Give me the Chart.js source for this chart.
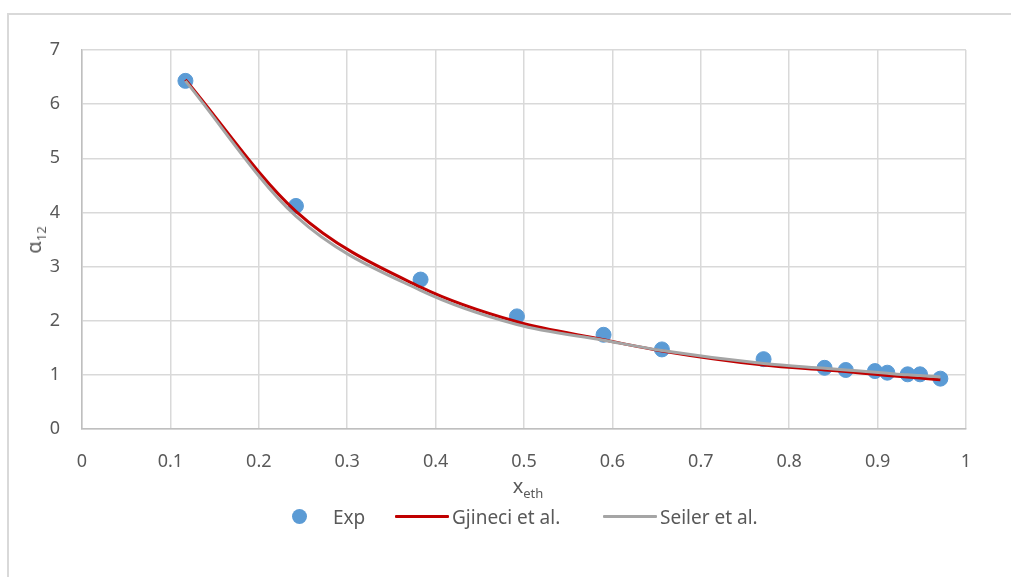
<!DOCTYPE html>
<html>
<head>
<meta charset="utf-8">
<script src="https://cdn.jsdelivr.net/npm/chart.js@4.4.0/dist/chart.umd.min.js"></script>
<style>
  html, body { margin: 0; padding: 0; background: #fff; overflow: hidden; }
  #wrap { position: relative; width: 1011px; height: 577px; font-family: "Noto Sans", sans-serif; color: #595959; }
  #frame { position: absolute; left: 7px; top: 13px; width: 1020px; height: 600px;
           border-left: 2px solid #d9d9d9; border-top: 2px solid #d9d9d9; }
  canvas { position: absolute; left: 0; top: 0; }
  .lbl { position: absolute; white-space: nowrap; font-size: 19px; line-height: 1; transform: translateY(-50%); }
  sub { font-size: 13px; vertical-align: -5px; }
  #ytitle { position: absolute; left: 35px; top: 240px; transform: translate(-50%, -50%) rotate(-90deg);
            font-size: 20px; white-space: nowrap; }
  #xtitle { position: absolute; left: 528px; top: 487px; transform: translate(-50%, -50%);
            font-size: 20px; white-space: nowrap; }
  .dot { position: absolute; width: 15px; height: 15px; border-radius: 50%; background: #5b9bd5; }
  .seg { position: absolute; height: 3px; border-radius: 1px; }
</style>
</head>
<body>
<div id="wrap">
  <div id="frame"></div>
  <canvas id="myChart" width="1011" height="577"></canvas>
  <div id="ytitle">α<sub>12</sub></div>
  <div id="xtitle">x<sub>eth</sub></div>
  <!-- legend -->
  <div class="dot" style="left:292px; top:509px;"></div>
  <div class="lbl" style="left:333px; top:517px;">Exp</div>
  <div class="seg" style="left:395px; top:515px; width:54px; background:#c00000;"></div>
  <div class="lbl" style="left:452px; top:517px;">Gjineci et al.</div>
  <div class="seg" style="left:603px; top:515px; width:54px; background:#a5a5a5;"></div>
  <div class="lbl" style="left:660px; top:517px;">Seiler et al.</div>
</div>
<script>
// mole fraction of ethanol and measured / modelled separation factor
const xEth = [0.117, 0.242, 0.383, 0.492, 0.590, 0.656, 0.771, 0.840, 0.864, 0.897, 0.911, 0.934, 0.948, 0.971];
const alphaExp = [6.43, 4.12, 2.76, 2.08, 1.74, 1.47, 1.29, 1.13, 1.09, 1.07, 1.04, 1.01, 1.01, 0.93];
const alphaGjineci = [6.45, 4.02, 2.62, 1.98, 1.65, 1.44, 1.18, 1.09, 1.06, 1.01, 0.99, 0.96, 0.94, 0.91];
const alphaSeiler = [6.43, 3.93, 2.56, 1.93, 1.64, 1.45, 1.21, 1.12, 1.09, 1.05, 1.03, 1.00, 0.99, 0.96];

const xTicks = [0, 0.1, 0.2, 0.3, 0.4, 0.5, 0.6, 0.7, 0.8, 0.9, 1];
const yTicks = [0, 1, 2, 3, 4, 5, 6, 7];

function points(ys) {
    return xEth.map((x, i) => ({ x: x, y: ys[i] }));
}

const ctx = document.getElementById('myChart').getContext('2d');

new Chart(ctx, {
    type: 'scatter',
    data: {
        datasets: [
            {
                label: 'Seiler et al.',
                data: points(alphaSeiler),
                showLine: true,
                borderColor: '#a5a5a5',
                borderWidth: 3,
                pointRadius: 0,
                cubicInterpolationMode: 'monotone',
                order: 1
            },
            {
                label: 'Gjineci et al.',
                data: points(alphaGjineci),
                showLine: true,
                borderColor: '#c00000',
                borderWidth: 3,
                pointRadius: 0,
                cubicInterpolationMode: 'monotone',
                order: 2
            },
            {
                label: 'Exp',
                data: points(alphaExp),
                backgroundColor: '#5b9bd5',
                borderColor: '#5b9bd5',
                pointRadius: 7.5,
                order: 3
            }
        ]
    },
    options: {
        responsive: false,
        animation: false,
        layout: { padding: { left: 0, top: 50, right: 45, bottom: 0 } },
        plugins: {
            legend: { display: false },
            tooltip: { enabled: false }
        },
        scales: {
            x: {
                type: 'linear',
                min: 0,
                max: 1,
                afterBuildTicks: (s) => { s.ticks = xTicks.map(v => ({ value: v })); },
                afterFit: (s) => { s.height = 148; },
                grid: { color: '#d9d9d9', lineWidth: 1.5, drawTicks: false },
                border: { color: '#bfbfbf', width: 1.5 },
                ticks: {
                    color: '#595959',
                    padding: 22,
                    font: { family: 'Noto Sans', size: 18 },
                    callback: (v) => String(v)
                }
            },
            y: {
                type: 'linear',
                min: 0,
                max: 7,
                afterBuildTicks: (s) => { s.ticks = yTicks.map(v => ({ value: v })); },
                afterFit: (s) => { s.width = 82; },
                grid: { color: '#d9d9d9', lineWidth: 1.5, drawTicks: false },
                border: { color: '#bfbfbf', width: 1.5 },
                ticks: {
                    color: '#595959',
                    padding: 22,
                    font: { family: 'Noto Sans', size: 18 }
                }
            }
        }
    }
});
</script>
</body>
</html>
